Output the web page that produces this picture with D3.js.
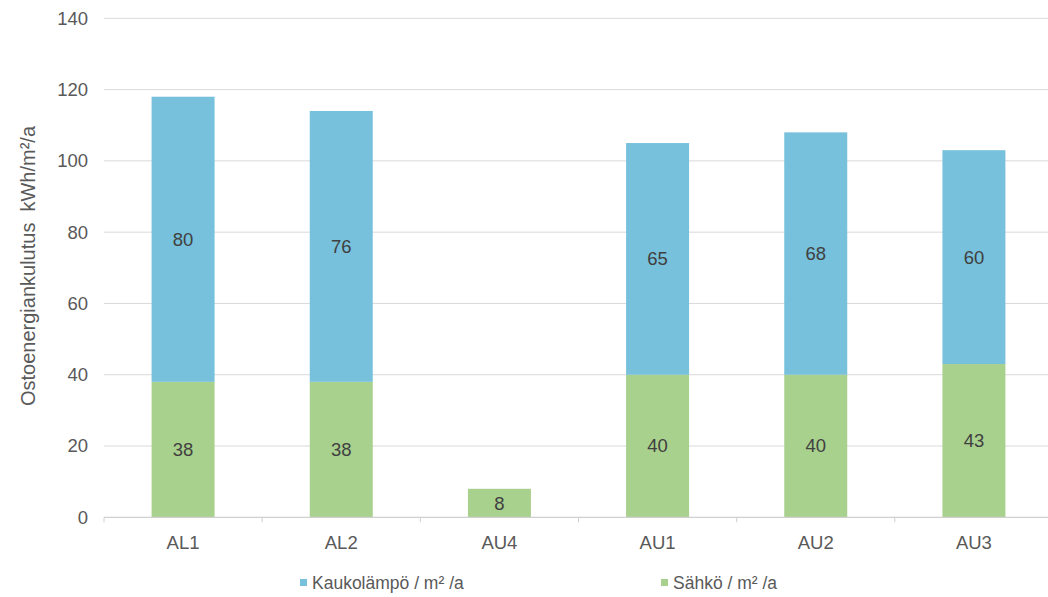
<!DOCTYPE html>
<html>
<head>
<meta charset="utf-8">
<script src="https://cdn.jsdelivr.net/npm/d3@7"></script>
<style>
  html, body { margin: 0; padding: 0; background: #fff; overflow: hidden; }
  svg { display: block; font-family: "Liberation Sans", Arial, sans-serif; }
</style>
</head>
<body>
<svg id="chart" width="1048" height="597"></svg>
<script>
// Purchased energy per building, kWh/m²/a
const categories = ["AL1", "AL2", "AU4", "AU1", "AU2", "AU3"];
const electricity = [38, 38, 8, 40, 40, 43];          // Sähkö / m² /a
const districtHeat = [80, 76, 0, 65, 68, 60];          // Kaukolämpö / m² /a
const seriesNames = ["Sähkö / m² /a", "Kaukolämpö / m² /a"];
const yTicks = [0, 20, 40, 60, 80, 100, 120, 140];
const yTitle = "Ostoenergiankulutus  kWh/m²/a";

const colors = { elec: "#A9D18E", heat: "#77C1DC" };

const svg = d3.select("#chart");
const plotLeft = 104, plotRight = 1053, plotTop = 18.3, plotBottom = 517.3;

const x = d3.scaleBand().domain(categories).range([plotLeft, plotRight]).paddingInner(0).paddingOuter(0);
const y = d3.scaleLinear().domain([0, 140]).range([plotBottom, plotTop]);
const barW = 63;

// gridlines
svg.append("g").selectAll("line").data(yTicks.filter(d => d > 0)).join("line")
  .attr("x1", plotLeft).attr("x2", plotRight)
  .attr("y1", d => y(d)).attr("y2", d => y(d))
  .attr("stroke", "#D9D9D9").attr("stroke-width", 1);

// y tick labels
svg.append("g").selectAll("text").data(yTicks).join("text")
  .attr("x", 88).attr("y", d => y(d)).attr("dy", "0.35em")
  .attr("text-anchor", "end").attr("font-size", 18.5).attr("fill", "#595959")
  .text(d => d);

// y title
svg.append("text")
  .attr("transform", `translate(35,266) rotate(-90)`)
  .attr("text-anchor", "middle").attr("font-size", 20).attr("fill", "#595959")
  .style("white-space", "pre")
  .text(yTitle);

// stacked data
const rows = categories.map((c, i) => ({ cat: c, elec: electricity[i], heat: districtHeat[i] }));
const stack = d3.stack().keys(["elec", "heat"])(rows);

const layers = svg.append("g").selectAll("g").data(stack).join("g")
  .attr("fill", d => colors[d.key]);

layers.selectAll("rect").data(d => d.filter(p => p[1] - p[0] > 0)).join("rect")
  .attr("x", d => x(d.data.cat) + x.bandwidth() / 2 - barW / 2)
  .attr("width", barW)
  .attr("y", d => y(d[1]))
  .attr("height", d => y(d[0]) - y(d[1]));

// value labels
layers.selectAll("text").data(d => d.filter(p => p[1] - p[0] > 0)).join("text")
  .attr("x", d => x(d.data.cat) + x.bandwidth() / 2)
  .attr("y", d => y((d[0] + d[1]) / 2))
  .attr("dy", "0.35em")
  .attr("text-anchor", "middle").attr("font-size", 18.5).attr("fill", "#404040")
  .text(d => d[1] - d[0]);

// x axis baseline and category boundary ticks
svg.append("line").attr("x1", plotLeft).attr("x2", plotRight)
  .attr("y1", plotBottom).attr("y2", plotBottom)
  .attr("stroke", "#D0D0D0").attr("stroke-width", 1.3);
const bounds = categories.map(c => x(c)).concat([x(categories[categories.length - 1]) + x.bandwidth()]);
svg.append("g").selectAll("line").data(bounds).join("line")
  .attr("x1", d => d).attr("x2", d => d)
  .attr("y1", plotBottom).attr("y2", plotBottom + 5)
  .attr("stroke", "#D0D0D0").attr("stroke-width", 1);

// category labels
svg.append("g").selectAll("text").data(categories).join("text")
  .attr("x", d => x(d) + x.bandwidth() / 2).attr("y", 543).attr("dy", "0.35em")
  .attr("text-anchor", "middle").attr("font-size", 18.5).attr("fill", "#595959")
  .text(d => d);

// legend
const legend = [
  { name: seriesNames[1], color: colors.heat, x: 300 },
  { name: seriesNames[0], color: colors.elec, x: 661 }
];
const lg = svg.append("g").selectAll("g").data(legend).join("g")
  .attr("transform", d => `translate(${d.x},583)`);
lg.append("rect").attr("x", 0).attr("y", -4).attr("width", 7).attr("height", 7)
  .attr("fill", d => d.color);
lg.append("text").attr("x", 12).attr("y", 0).attr("dy", "0.35em")
  .attr("font-size", 17.5).attr("fill", "#595959")
  .text(d => d.name);
</script>
</body>
</html>
